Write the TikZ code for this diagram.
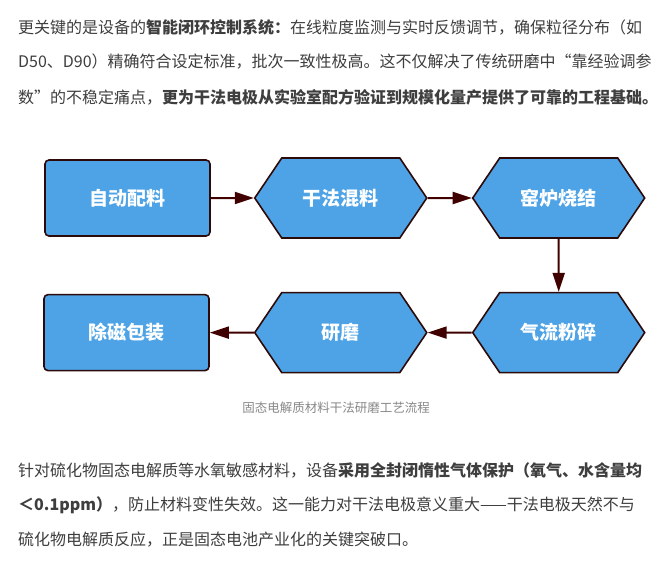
\documentclass[tikz,border=0pt]{standalone}
\usepackage{xcolor}
\usepackage{fontspec}
\setmainfont{Noto Sans CJK SC}
\usepackage{tikz}
\usetikzlibrary{arrows.meta,positioning,shapes.symbols}
\definecolor{stepblue}{RGB}{77,163,229}
\definecolor{edgebrown}{RGB}{45,10,10}
\definecolor{arrowbrown}{RGB}{64,0,0}
\definecolor{bodytext}{RGB}{62,62,62}
\definecolor{captiongray}{RGB}{136,136,136}
\XeTeXlinebreaklocale "zh"
\XeTeXlinebreakskip=0pt plus 1pt
\newcommand{\fullline}[1]{\hbox to 639pt{#1}}
\begin{document}
\begin{tikzpicture}[
x=1pt, y=-1pt,
node distance=43pt and 44pt,
box/.style={draw=edgebrown, line width=1.6pt, rounded corners=4pt, fill=stepblue, text=white, minimum width=165pt, minimum height=76pt, font=\fontsize{19}{22}\selectfont\bfseries},
hexbox/.style={signal, signal to=east and west, signal pointer angle=112, draw=edgebrown, line width=1.6pt, fill=stepblue, text=white, minimum width=172pt, minimum height=80pt, inner xsep=2pt, font=\fontsize{19}{22}\selectfont\bfseries},
arr/.style={-{Triangle[length=19pt,width=12pt]}, line width=2pt, draw=arrowbrown, fill=arrowbrown},
para/.style={anchor=west, inner sep=0pt, text=bodytext, font=\fontsize{16}{20}\selectfont},
caption/.style={inner sep=0pt, text=captiongray, font=\fontsize{12.5}{15}\selectfont}
]
\fill[white] (0,0) rectangle (669,579);
\useasboundingbox (0,0) rectangle (669,579);
\node[para] (top1) at (18,27) {\fullline{更关键的是设备的\textbf{智能闭环控制系统：}在线粒度监测与实时反馈调节，确保粒径分布（如}};
\node[para] (top2) at (18,62) {\fullline{D50、D90）精确符合设定标准，批次一致性极高。这不仅解决了传统研磨中“靠经验调参}};
\node[para] (top3) at (18,97) {数”的不稳定痛点，\textbf{更为干法电极从实验室配方验证到规模化量产提供了可靠的工程基础。}};
\node[box] (batch) at (127.5,198) {自动配料};
\node[hexbox, right=43pt of batch] (mix) {干法混料};
\node[hexbox, right=44pt of mix] (kiln) {窑炉烧结};
\node[hexbox, below=53pt of kiln] (jet) {气流粉碎};
\node[hexbox, left=44pt of jet] (grind) {研磨};
\node[box, left=44pt of grind] (pack) {除磁包装};
\draw[arr] (batch)--(mix);
\draw[arr] (mix)--(kiln);
\draw[arr] (kiln)--(jet);
\draw[arr] (jet)--(grind);
\draw[arr] (grind)--(pack);
\node[caption] (cap) at (336,408) {固态电解质材料干法研磨工艺流程};
\node[para] (low1) at (18,470) {\fullline{针对硫化物固态电解质等水氧敏感材料，设备\textbf{采用全封闭惰性气体保护（氧气、水含量均}}};
\node[para] (low2) at (18,505) {\fullline{\textbf{＜0.1ppm）}，防止材料变性失效。这一能力对干法电极意义重大——干法电极天然不与}};
\node[para] (low3) at (18,540) {硫化物电解质反应，正是固态电池产业化的关键突破口。};
\end{tikzpicture}
\end{document}
